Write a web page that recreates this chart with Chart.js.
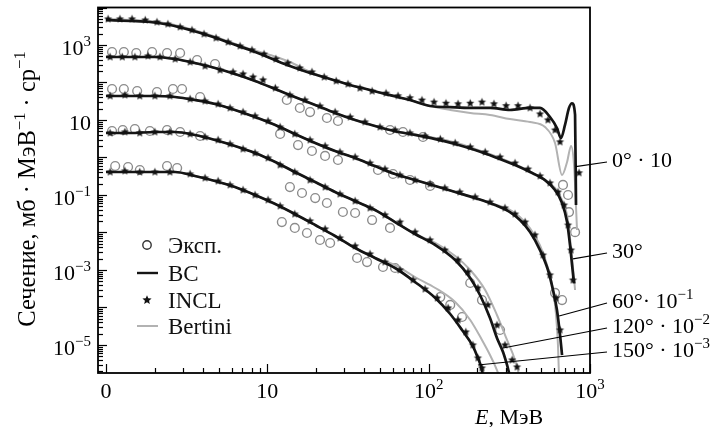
<!DOCTYPE html>
<html>
<head>
<meta charset="utf-8">
<script src="https://cdn.jsdelivr.net/npm/chart.js@4.4.1/dist/chart.umd.min.js"></script>
<style>
html,body{margin:0;padding:0;background:#ffffff;}
#wrap{position:relative;width:712px;height:427px;}
canvas{display:block;}
</style>
</head>
<body>
<div id="wrap"><canvas id="chart" width="712" height="427"></canvas></div>
<script>
// Energy-axis coordinates (axis ticks labelled 0, 10, 10^2, 10^3) and cross sections as plotted.
// ---- 0° · 10 ----
const bc0E   = [1.0,1.41,1.87,2.49,3.32,4.41,5.87,7.81,10.4,13.8,18.4,24.5,32.6,43.3,57.6,76.6,102,136,181,240,319,425,490,565,624,661,700,741,774,808,819];
const bc0    = [4640,4370,4100,3420,2510,1740,1130,736,450,275,180,124,86,63,46,34,23.6,22,21,21,18.5,21,21,12,6.1,3.3,7.4,21,28,13.6,0.054];
const bert0E = [1.0,1.41,1.87,2.49,3.32,4.41,5.87,7.81,10.4,13.8,18.4,24.5,32.6,43.3,57.6,76.6,102,136,181,240,319,425,526,607,671,721,763,796,831];
const bert0  = [4940,4640,4370,3630,2670,1850,1200,782,541,352,191,124,86,63,46,34,23.6,18.5,15.4,13.6,10.6,8.85,6.5,2.44,0.341,0.759,2.03,0.631,0.0117];
const exp0E  = [];
const exp0   = [];
const inc0E  = [1.03,1.22,1.45,1.75,2.07,2.42,2.88,3.41,4.05,4.81,5.71,6.77,8.03,9.54,11.3,13.4,15.9,18.9,22.5,26.7,31.6,37.5,44.6,54.4,64.6,76.6,90.9,108,128,152,181,214,254,302,358,425,490,549,607,652,855];
const inc0   = [4940,4940,4940,4640,4100,3630,3020,2510,1970,1540,1200,940,736,575,423,331,244,191,140,110,91,71,59,52,44,39,34,30,28,27,28,30,27,24,24,21,14.5,10,5.4,2.6,0.39];

// ---- 30° ----
const bc30E   = [1.0,1.41,2.01,2.68,3.56,4.74,6.3,8.39,11.2,14.8,19.8,26.3,35,46.5,61.9,82.3,110,146,194,258,343,425,526,607,671,721,752,774,796];
const bc30    = [479,479,479,423,331,244,169,110,67,41,25.1,15.4,10,6.9,5.0,4.0,3.1,2.3,1.58,1.02,0.63,0.41,0.25,0.136,0.061,0.019,0.0046,0.00136,0.00044];
const bert30E = [1.0,1.41,2.01,2.68,3.56,4.74,6.3,8.39,11.2,14.8,19.8,26.3,35,46.5,61.9,82.3,110,146,194,258,343,425,526,607,671,721,752,785,808];
const bert30  = [479,479,479,423,331,244,169,110,67,41,25.1,15.4,10,6.9,5.0,4.1,3.3,2.5,1.7,1.1,0.66,0.42,0.25,0.154,0.0736,0.0293,0.00713,0.00113,0.000293];
const exp30E  = [1.09,1.29,1.54,1.93,2.39,2.88,3.67,4.74,13.2,15.9,18.4,23.4,27.4,57.6,69.3,92.2,680,731,741,808];
const exp30   = [651,651,612,651,612,612,398,311,34.1,20.9,16.3,11.3,9.4,5.41,4.79,3.52,0.185,0.1,0.035,0.0102];
const inc30E  = [1.06,1.26,1.51,1.82,2.16,2.68,3.32,4.11,5.09,6.13,7.07,8.15,9.4,11.2,13.8,17.1,21.2,26.3,32.6,40.3,49.9,61.9,76.6,94.9,118,146,181,224,277,343,413,490,565,633,690,731,763,785];
const inc30   = [479,479,479,509,479,423,352,275,215,191,169,140,117,71.3,46.4,34.1,23.6,16.3,12,8.85,6.5,5.41,4.5,3.74,3.11,2.44,1.91,1.40,1.03,0.713,0.493,0.321,0.209,0.12,0.054,0.0158,0.0034,0.00054];

// ---- 60° · 10^-1 ----
const bc60E   = [1.0,1.41,2.01,2.68,3.56,4.74,6.3,8.39,11.2,14.8,19.8,26.3,35,46.5,61.9,82.3,110,146,194,258,319,368,425,490,549,590,624,652,671];
const bc60    = [43.7,43.7,43.7,41,34.1,26.7,18.5,12,7.36,4.24,2.44,1.49,0.97,0.59,0.363,0.251,0.174,0.12,0.083,0.054,0.035,0.0215,0.0103,0.0034,0.001,0.00029,0.000086,0.0000185,0.0000054];
const bert60E = [1.0,1.41,2.01,2.68,3.56,4.74,6.3,8.39,11.2,14.8,19.8,26.3,35,46.5,61.9,82.3,110,146,194,258,319,368,425,490,549,590,616,633,643];
const bert60  = [43.7,43.7,43.7,41,34.1,26.7,18.5,12,7.36,4.24,2.44,1.49,0.97,0.59,0.363,0.251,0.174,0.12,0.083,0.056,0.04,0.026,0.013,0.0045,0.00113,0.00029,0.000063,0.00001,0.0000013];
const exp60E  = [1.09,1.29,1.56,2.07,2.6,2.96,3.83,12.0,15.5,18.9,22.8,27.4,48.5,60.1,76.6,102,607,671];
const exp60   = [67.1,67.1,59.3,55.8,67.1,67.1,41,4.24,2.15,1.49,1.1,0.857,0.464,0.363,0.251,0.174,0.000244,0.000158];
const inc60E  = [1.06,1.31,1.62,2.01,2.49,3.32,4.11,4.95,5.87,7.07,8.39,10.1,12.0,14.8,18.4,22.8,28.2,35,43.3,53.6,66.4,82.3,102,126,156,194,240,297,343,396,456,511,565,616,652];
const inc60   = [43.7,46.4,43.7,43.7,43.7,36.3,32.1,26.7,20.9,16.3,12.8,9.4,6.5,4.24,2.93,2.03,1.4,1.03,0.713,0.493,0.341,0.251,0.196,0.154,0.12,0.0885,0.065,0.045,0.0311,0.019,0.00858,0.00251,0.000736,0.000179,0.0000251];

// ---- 120° · 10^-2 ----
const bc120E   = [1.0,1.41,2.01,2.68,3.56,4.74,6.3,8.39,11.2,14.8,19.8,26.3,35,46.5,61.9,82.3,110,146,181,208,240,265,289,306,315];
const bc120    = [4.5,4.5,4.79,4.79,3.98,2.93,2.03,1.32,0.76,0.41,0.222,0.12,0.069,0.0398,0.019,0.0091,0.00464,0.00185,0.00061,0.000215,0.0000525,0.0000154,0.0000065,0.00000293,0.0000018];
const bert120E = [1.0,1.41,2.01,2.68,3.56,4.74,6.3,8.39,11.2,14.8,19.8,26.3,35,46.5,61.9,82.3,110,146,181,224,265,306,343,368];
const bert120  = [4.5,4.5,4.79,4.79,3.98,2.93,2.03,1.32,0.76,0.41,0.222,0.12,0.069,0.0398,0.019,0.0091,0.00525,0.00236,0.001,0.000293,0.0000631,0.0000136,0.00000398,0.0000013];
const exp120E  = [1.09,1.27,1.51,1.87,2.39,2.88,3.83,13.8,16.4,19.8,23.4,29.4,35,44.6,57.6,181,214,277];
const exp120   = [5.09,5.41,5.75,5.09,5.41,4.79,3.74,0.163,0.113,0.083,0.0612,0.0352,0.0331,0.0215,0.0132,0.00045,0.000158,0.0000251];
const inc120E  = [1.06,1.31,1.62,2.01,2.49,3.32,4.11,4.95,5.87,7.07,8.39,10.1,12.0,14.8,18.4,22.8,28.2,35,43.3,53.6,66.4,82.3,102,126,152,175,202,233,265,297,329,353];
const inc120   = [4.5,4.79,4.5,4.79,4.79,4.24,3.52,2.93,2.29,1.69,1.32,0.97,0.631,0.41,0.251,0.163,0.106,0.0692,0.045,0.0293,0.019,0.0103,0.00631,0.00341,0.00185,0.000885,0.000331,0.000117,0.0000341,0.00001,0.00000398,0.00000259];

// ---- 150° · 10^-3 ----
const bc150E   = [1.0,1.41,2.01,2.68,3.56,4.74,6.3,8.39,11.2,14.8,19.8,26.3,35,46.5,61.9,82.3,110,136,161,186,202,214,217];
const bc150    = [0.41,0.41,0.41,0.41,0.321,0.236,0.163,0.1,0.0575,0.0311,0.0158,0.00807,0.00386,0.00209,0.00113,0.000479,0.000179,0.000067,0.0000251,0.00001,0.0000045,0.00000215,0.0000015];
const bert150E = [1.0,1.41,2.01,2.68,3.56,4.74,6.3,8.39,11.2,14.8,19.8,26.3,35,46.5,61.9,82.3,110,146,181,214,240,265,277];
const bert150  = [0.41,0.41,0.41,0.41,0.321,0.236,0.163,0.1,0.0575,0.0311,0.0158,0.00807,0.00386,0.00209,0.00136,0.00065,0.000331,0.00014,0.0000464,0.0000136,0.00000541,0.00000215,0.0000013];
const exp150E  = [1.14,1.37,1.62,2.39,2.76,12.3,14.8,17.6,21.2,24.5,36,41.5,52.1,61.9,118,136,161];
const exp150   = [0.593,0.558,0.464,0.593,0.525,0.019,0.0132,0.0097,0.00631,0.00525,0.00209,0.00163,0.0012,0.00113,0.00019,0.000117,0.0000558];
const inc150E  = [1.06,1.31,1.62,2.01,2.49,3.32,4.11,4.95,5.87,7.07,8.39,10.1,12.0,14.8,18.4,22.8,28.2,35,43.3,53.6,66.4,80,94.9,113,132,152,170,188,202,214];
const inc150   = [0.41,0.437,0.41,0.41,0.41,0.363,0.284,0.236,0.185,0.136,0.1,0.0736,0.0509,0.0311,0.0203,0.0124,0.00713,0.00437,0.00267,0.00163,0.001,0.000541,0.000311,0.000179,0.000097,0.0000464,0.0000222,0.00001,0.0000045,0.00000244];

// ---- axes / labels ----
const xTickValues = [1, 10, 100, 1000];
const xTickBase   = ['0', '10', '10', '10'];
const xTickExp    = ['', '', '2', '3'];
const yTickValues = [1e-5, 1e-3, 1e-1, 1e1, 1e3];
const yTickExp    = ['−5', '−3', '−1', '', '3'];
const curveLabels = ['0° · 10', '30°', '60°· 10', '120° · 10', '150° · 10'];
const curveLabelExp = ['', '', '−1', '−2', '−3'];
const curveAnchorE = [815, 785, 643, 289, 202];
const curveAnchorY = [0.569, 0.00197, 0.0000593, 0.0000083, 0.00000293];
const legendLabels = ['Эксп.', 'BC', 'INCL', 'Bertini'];

const FONT = "'Liberation Serif','Times New Roman',serif";

function pts(xs, ys) { return xs.map((x, i) => ({ x: x, y: ys[i] })); }

function makeStar(r, color) {
  const s = Math.ceil(r * 2 + 2);
  const c = document.createElement('canvas');
  c.width = s; c.height = s;
  const g = c.getContext('2d');
  g.fillStyle = color;
  g.beginPath();
  for (let i = 0; i < 10; i++) {
    const a = -Math.PI / 2 + i * Math.PI / 5;
    const rr = (i % 2) ? r * 0.45 : r;
    g.lineTo(s / 2 + rr * Math.cos(a), s / 2 + rr * Math.sin(a));
  }
  g.closePath();
  g.fill();
  return c;
}
const starImg = makeStar(4.3, '#111');
const legendStar = makeStar(4.8, '#111');

const groups = [
  { bcE: bc0E, bc: bc0, beE: bert0E, be: bert0, exE: exp0E, ex: exp0, inE: inc0E, inc: inc0 },
  { bcE: bc30E, bc: bc30, beE: bert30E, be: bert30, exE: exp30E, ex: exp30, inE: inc30E, inc: inc30 },
  { bcE: bc60E, bc: bc60, beE: bert60E, be: bert60, exE: exp60E, ex: exp60, inE: inc60E, inc: inc60 },
  { bcE: bc120E, bc: bc120, beE: bert120E, be: bert120, exE: exp120E, ex: exp120, inE: inc120E, inc: inc120 },
  { bcE: bc150E, bc: bc150, beE: bert150E, be: bert150, exE: exp150E, ex: exp150, inE: inc150E, inc: inc150 }
];

const datasets = [];
groups.forEach(g => {
  datasets.push({ label: 'INCL', data: pts(g.inE, g.inc), showLine: false, pointStyle: starImg, pointRadius: 5, order: 0 });
  datasets.push({ label: 'BC', data: pts(g.bcE, g.bc), showLine: true, fill: false, borderColor: '#151515', borderWidth: 2.7, pointRadius: 0, cubicInterpolationMode: 'monotone', order: 1 });
  datasets.push({ label: 'Bertini', data: pts(g.beE, g.be), showLine: true, fill: false, borderColor: '#b2b2b2', borderWidth: 2, pointRadius: 0, cubicInterpolationMode: 'monotone', order: 2 });
  if (g.exE.length) {
    datasets.push({ label: 'Эксп.', data: pts(g.exE, g.ex), showLine: false, pointStyle: 'circle', pointRadius: 4.4, borderColor: '#8c8c8c', backgroundColor: 'rgba(0,0,0,0)', pointBorderWidth: 1.4, order: 3 });
  }
});

function setFont(ctx, size, italic) { ctx.font = (italic ? 'italic ' : '') + size + 'px ' + FONT; }
function richWidth(ctx, parts, size) {
  let w = 0;
  parts.forEach(p => { setFont(ctx, p.s ? size * 0.68 : size, p.i); w += ctx.measureText(p.t).width; });
  return w;
}
function drawRich(ctx, parts, x, y, size, align) {
  const w = richWidth(ctx, parts, size);
  let cx = align === 'right' ? x - w : (align === 'center' ? x - w / 2 : x);
  ctx.textAlign = 'left';
  ctx.textBaseline = 'alphabetic';
  parts.forEach(p => {
    const fs = p.s ? size * 0.68 : size;
    setFont(ctx, fs, p.i);
    ctx.fillText(p.t, cx, p.s ? y - size * 0.42 : y);
    cx += ctx.measureText(p.t).width;
  });
}
function line(ctx, x1, y1, x2, y2) { ctx.beginPath(); ctx.moveTo(x1, y1); ctx.lineTo(x2, y2); ctx.stroke(); }

const decor = {
  id: 'decor',
  afterDraw(chart) {
    const ctx = chart.ctx, xs = chart.scales.x, ys = chart.scales.y, a = chart.chartArea;
    ctx.save();
    ctx.strokeStyle = '#000';
    ctx.fillStyle = '#000';
    // frame
    ctx.lineWidth = 1.8;
    ctx.strokeRect(a.left, a.top, a.right - a.left, a.bottom - a.top);
    // y ticks (inward)
    ctx.lineWidth = 1.2;
    for (let d = -7; d <= 4; d++) {
      for (let m = 1; m <= 9; m++) {
        const v = m * Math.pow(10, d);
        if (v < ys.min || v > ys.max) continue;
        const p = Math.round(ys.getPixelForValue(v)) + 0.5;
        line(ctx, a.left, p, a.left + (m === 1 ? 9 : 5), p);
      }
    }
    // x ticks (inward)
    for (let d = 0; d <= 3; d++) {
      for (let m = 1; m <= 9; m++) {
        const v = m * Math.pow(10, d);
        if (v < xs.min || v > xs.max) continue;
        const p = Math.round(xs.getPixelForValue(v)) + 0.5;
        line(ctx, p, a.bottom, p, a.bottom - (m === 1 ? 9 : 5));
      }
    }
    // y tick labels
    yTickValues.forEach((v, i) => {
      const p = ys.getPixelForValue(v);
      const parts = [{ t: '10' }];
      if (yTickExp[i]) parts.push({ t: yTickExp[i], s: true });
      drawRich(ctx, parts, a.left - 7, p + 10, 22, 'right');
    });
    // x tick labels
    xTickValues.forEach((v, i) => {
      const p = xs.getPixelForValue(v);
      const parts = [{ t: xTickBase[i] }];
      if (xTickExp[i]) parts.push({ t: xTickExp[i], s: true });
      drawRich(ctx, parts, p, a.bottom + 25, 22, 'center');
    });
    // axis titles
    drawRich(ctx, [{ t: 'E', i: true }, { t: ', МэВ' }], 475, 424, 22, 'left');
    ctx.save();
    ctx.translate(35, 189);
    ctx.rotate(-Math.PI / 2);
    drawRich(ctx, [{ t: 'Сечение, мб · МэВ' }, { t: '−1', s: true }, { t: ' · ср' }, { t: '−1', s: true }], 0, 0, 24.5, 'center');
    ctx.restore();
    // curve labels with leader lines
    const labBase = [167, 258, 308, 333, 357];
    ctx.lineWidth = 1.2;
    curveLabels.forEach((t, i) => {
      const px = xs.getPixelForValue(curveAnchorE[i]);
      const py = ys.getPixelForValue(curveAnchorY[i]);
      line(ctx, px, py, a.right + 17, labBase[i] - 5);
      const parts = [{ t: t }];
      if (curveLabelExp[i]) parts.push({ t: curveLabelExp[i], s: true });
      drawRich(ctx, parts, a.right + 22, labBase[i], 22, 'left');
    });
    // legend
    const rowY = [245, 273, 300, 326];
    const sx = 147, tx = 168;
    ctx.strokeStyle = '#333'; ctx.lineWidth = 1.4;
    ctx.beginPath(); ctx.arc(sx, rowY[0], 4.2, 0, Math.PI * 2); ctx.stroke();
    ctx.strokeStyle = '#151515'; ctx.lineWidth = 2.4;
    line(ctx, 137, rowY[1], 158, rowY[1]);
    ctx.drawImage(legendStar, sx - legendStar.width / 2, rowY[2] - legendStar.height / 2);
    ctx.strokeStyle = '#b2b2b2'; ctx.lineWidth = 2;
    line(ctx, 137, rowY[3], 158, rowY[3]);
    ctx.fillStyle = '#111';
    legendLabels.forEach((t, i) => drawRich(ctx, [{ t: t }], tx, rowY[i] + 8, 23, 'left'));
    ctx.restore();
  }
};

new Chart(document.getElementById('chart'), {
  type: 'scatter',
  data: { datasets: datasets },
  options: {
    responsive: false,
    animation: false,
    devicePixelRatio: 1,
    events: [],
    layout: { padding: { left: 98, right: 122, top: 7.5, bottom: 54 } },
    plugins: { legend: { display: false }, tooltip: { enabled: false } },
    scales: {
      x: { type: 'logarithmic', display: false, min: 0.892, max: 1000 },
      y: { type: 'logarithmic', display: false, min: 1.79e-6, max: 1e4 }
    }
  },
  plugins: [decor]
});
</script>
</body>
</html>
